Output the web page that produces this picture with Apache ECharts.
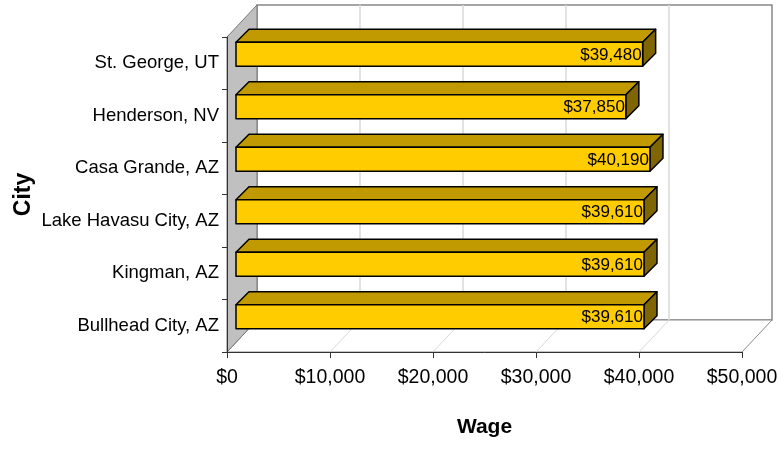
<!DOCTYPE html>
<html>
<head>
<meta charset="utf-8">
<script src="https://cdn.jsdelivr.net/npm/echarts@6/dist/echarts.min.js"></script>
<style>
  html, body { margin: 0; padding: 0; background: #fff; }
  #chart { width: 778px; height: 449px; }
</style>
</head>
<body>
<div id="chart"></div>
<script>
// 数据
const cities = ['Bullhead City, AZ', 'Kingman, AZ', 'Lake Havasu City, AZ', 'Casa Grande, AZ', 'Henderson, NV', 'St. George, UT']
const wages = [39610, 39610, 39610, 40190, 37850, 39480]
const wageTicks = [0, 10000, 20000, 30000, 40000, 50000]

// 3D 偏移 (像素)
const WALL_DX = 30
const WALL_DY = -32
const BAR_DX = 9
const BAR_DY = -9
const BAR_DEPTH = 13
const BAR_H = 24

const FONT = "'Liberation Sans', Arial, sans-serif"
const money = v => '$' + v.toLocaleString('en-US')

const chartDom = document.getElementById('chart')
const myChart = echarts.init(chartDom)

// 墙和地板
function renderWalls (params, api) {
  const band = api.size([0, 1])[1]
  const x0 = api.coord([wageTicks[0], 0])[0]
  const xM = api.coord([wageTicks[wageTicks.length - 1], 0])[0]
  const yB = api.coord([0, 0])[1] + band / 2
  const yT = api.coord([0, cities.length - 1])[1] - band / 2
  const children = []
  // 后墙
  children.push({
    type: 'rect',
    shape: { x: x0 + WALL_DX, y: yT + WALL_DY, width: xM - x0, height: yB - yT },
    style: { fill: '#fff', stroke: '#888', lineWidth: 1.5 }
  })
  // 地板
  children.push({
    type: 'polygon',
    shape: { points: [[x0, yB], [xM, yB], [xM + WALL_DX, yB + WALL_DY], [x0 + WALL_DX, yB + WALL_DY]] },
    style: { fill: '#fff', stroke: '#888', lineWidth: 1 }
  })
  // 网格线
  wageTicks.slice(1, -1).forEach(t => {
    const x = api.coord([t, 0])[0]
    children.push({
      type: 'line',
      shape: { x1: x + WALL_DX, y1: yT + WALL_DY, x2: x + WALL_DX, y2: yB + WALL_DY },
      style: { stroke: '#d9d9d9', lineWidth: 1.5 }
    })
    children.push({
      type: 'line',
      shape: { x1: x, y1: yB, x2: x + WALL_DX, y2: yB + WALL_DY },
      style: { stroke: '#d9d9d9', lineWidth: 1 }
    })
  })
  // 左墙
  children.push({
    type: 'polygon',
    shape: { points: [[x0, yB], [x0, yT], [x0 + WALL_DX, yT + WALL_DY], [x0 + WALL_DX, yB + WALL_DY]] },
    style: { fill: '#c0c0c0', stroke: '#777', lineWidth: 1 }
  })
  return { type: 'group', children }
}

// 3D 柱子
function renderBar (params, api) {
  const v = api.value(0)
  const cat = api.value(1)
  const p0 = api.coord([0, cat])
  const p1 = api.coord([v, cat])
  const xL = p0[0] + BAR_DX
  const xR = p1[0] + BAR_DX
  const yc = p0[1] + BAR_DY
  const top = yc - BAR_H / 2
  const bottom = yc + BAR_H / 2
  const line = { stroke: '#000', lineWidth: 1.5, lineJoin: 'round' }
  return {
    type: 'group',
    children: [
      {
        type: 'polygon',
        shape: { points: [[xL, top], [xR, top], [xR + BAR_DEPTH, top - BAR_DEPTH], [xL + BAR_DEPTH, top - BAR_DEPTH]] },
        style: Object.assign({ fill: '#c09a00' }, line)
      },
      {
        type: 'polygon',
        shape: { points: [[xR, top], [xR + BAR_DEPTH, top - BAR_DEPTH], [xR + BAR_DEPTH, bottom - BAR_DEPTH], [xR, bottom]] },
        style: Object.assign({ fill: '#806600' }, line)
      },
      {
        type: 'rect',
        shape: { x: xL, y: top, width: xR - xL, height: BAR_H },
        style: Object.assign({ fill: '#ffcc00' }, line)
      },
      {
        type: 'text',
        x: xR - 1,
        y: yc + 1,
        style: {
          text: money(v),
          align: 'right',
          verticalAlign: 'middle',
          fill: '#000',
          font: '17px ' + FONT
        }
      }
    ]
  }
}

const option = {
  animation: false,
  backgroundColor: '#fff',
  grid: { left: 227, right: 36, top: 37, bottom: 97, containLabel: false, outerBoundsMode: 'none' },
  xAxis: {
    type: 'value',
    min: wageTicks[0],
    max: wageTicks[wageTicks.length - 1],
    interval: wageTicks[1] - wageTicks[0],
    z: 10,
    name: 'Wage',
    nameLocation: 'middle',
    nameGap: 65,
    nameMoveOverlap: false,
    nameTextStyle: { fontFamily: FONT, fontSize: 21, fontWeight: 'bold', color: '#000' },
    axisLine: { show: true, lineStyle: { color: '#333', width: 1 } },
    axisTick: { show: true, length: 6, lineStyle: { color: '#333' } },
    splitLine: { show: false },
    axisLabel: {
      formatter: money,
      fontFamily: FONT,
      fontSize: 19.5,
      color: '#000',
      margin: 16,
      showMinLabel: true,
      showMaxLabel: true
    }
  },
  yAxis: {
    type: 'category',
    data: cities,
    z: 10,
    name: 'City',
    nameLocation: 'middle',
    nameGap: 192,
    nameMoveOverlap: false,
    nameTextStyle: { fontFamily: FONT, fontSize: 23, fontWeight: 'bold', color: '#000' },
    axisLine: { show: true, lineStyle: { color: '#333', width: 1 } },
    axisTick: { show: true, length: 5, lineStyle: { color: '#333' } },
    splitLine: { show: false },
    axisLabel: { fontFamily: FONT, fontSize: 18.5, color: '#000', margin: 8 }
  },
  series: [
    {
      type: 'custom',
      clip: false,
      z: 1,
      silent: true,
      renderItem: renderWalls,
      data: [[0, 0]]
    },
    {
      type: 'custom',
      clip: false,
      z: 5,
      renderItem: renderBar,
      data: wages.map((w, i) => [w, i])
    }
  ]
}

option && myChart.setOption(option)
</script>
</body>
</html>
